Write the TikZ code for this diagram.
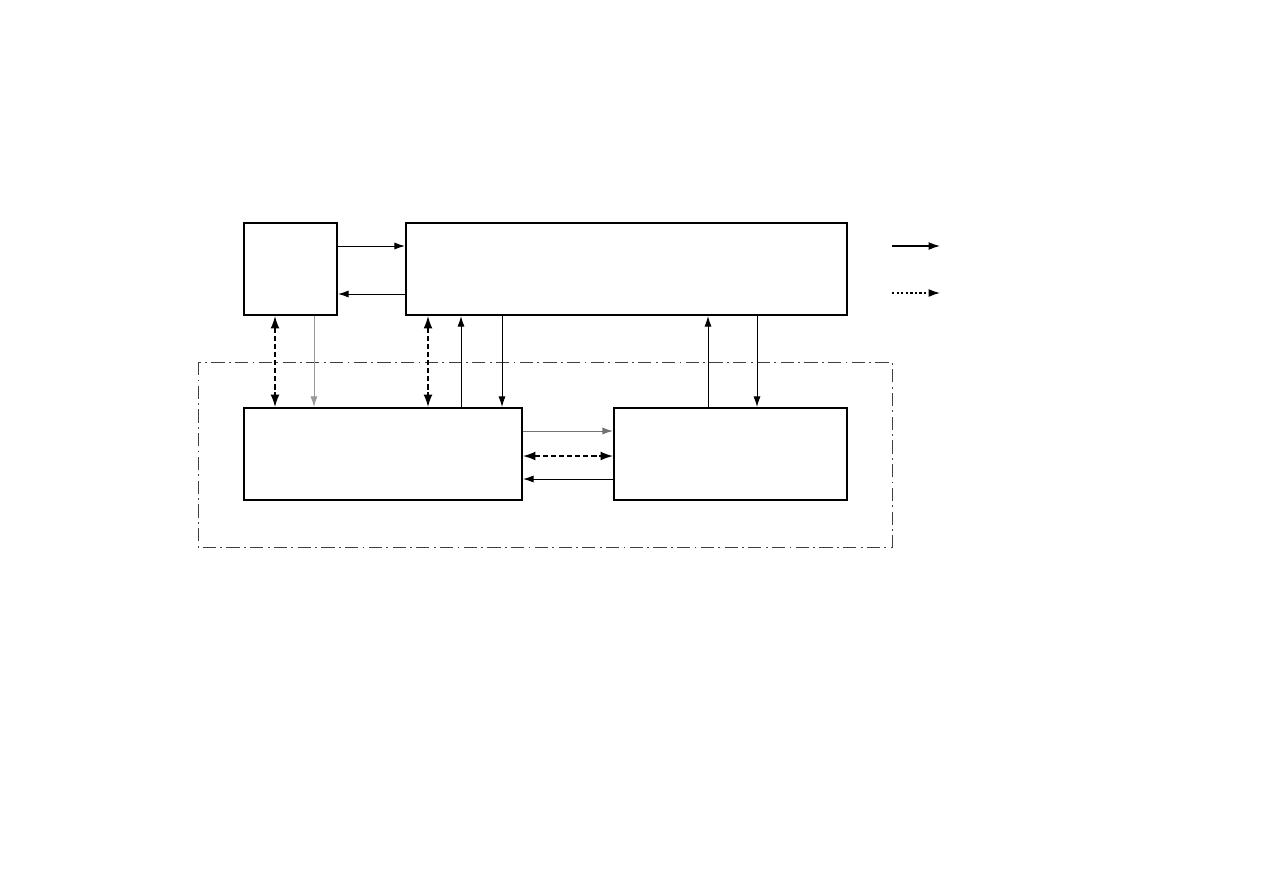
\documentclass[tikz,border=0pt]{standalone}
\usetikzlibrary{arrows.meta}

\tikzset{
  blk/.style={draw,shape=rectangle,line width=1.2pt,inner sep=0pt},
  sig/.style={-{Latex[length=6pt,width=4pt]},line width=0.55pt},
  dsig/.style={{Latex[length=7pt,width=5pt]}-{Latex[length=7pt,width=5pt]},line width=0.75pt,dash pattern=on 3pt off 1.6pt},
  dotsig/.style={-{Latex[length=6.5pt,width=4.5pt]},line width=0.75pt,dash pattern=on 1.3pt off 1.3pt}
}

\begin{document}
\begin{tikzpicture}[x=0.02cm,y=-0.02cm]
  \useasboundingbox (0,0) rectangle (1263,893);

  \node [blk,minimum width=1.86cm,minimum height=1.84cm] (src) at (290.5,269) {};
  \node [blk,minimum width=8.82cm,minimum height=1.84cm] (ctl) at (626.5,269) {};
  \node [blk,minimum width=5.56cm,minimum height=1.84cm] (left) at (383,454) {};
  \node [blk,minimum width=4.66cm,minimum height=1.84cm] (right) at (730.5,454) {};

  \draw [black!75,line width=0.5pt,dash pattern=on 7.5pt off 2.5pt on 1pt off 2.5pt]
    (198,362) rectangle (892,547);

  \draw [sig] (src.east |- 0,246) -- (ctl.west |- 0,246);
  \draw [sig] (ctl.west |- 0,294) -- (src.east |- 0,294);

  \draw [dsig] (src.south -| 275,0) -- (left.north -| 275,0);
  \draw [sig,black!40] (src.south -| 314,0) -- (left.north -| 314,0);
  \draw [dsig] (ctl.south -| 428,0) -- (left.north -| 428,0);
  \draw [sig] (left.north -| 461,0) -- (ctl.south -| 461,0);
  \draw [sig] (ctl.south -| 502,0) -- (left.north -| 502,0);
  \draw [sig] (right.north -| 708,0) -- (ctl.south -| 708,0);
  \draw [sig] (ctl.south -| 757,0) -- (right.north -| 757,0);

  \draw [sig,black!55] (left.east |- 0,431) -- (right.west |- 0,431);
  \draw [dsig] (left.east |- 0,456) -- (right.west |- 0,456);
  \draw [sig] (right.west |- 0,479) -- (left.east |- 0,479);

  \coordinate (la) at (892,246);
  \coordinate (lb) at (940,246);
  \coordinate (lc) at (892,293);
  \coordinate (ld) at (940,293);
  \draw [sig,line width=0.75pt,-{Latex[length=6.5pt,width=4.5pt]}] (la) -- (lb);
  \draw [dotsig] (lc) -- (ld);

\end{tikzpicture}
\end{document}
